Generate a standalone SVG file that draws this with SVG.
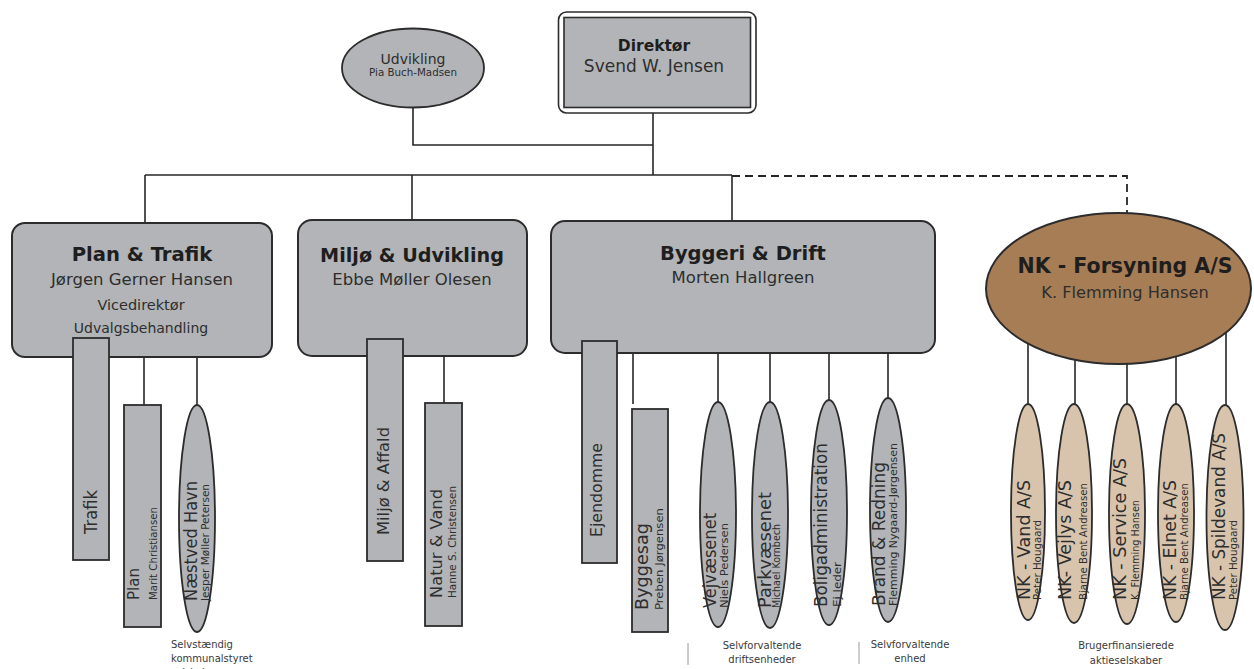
<svg xmlns="http://www.w3.org/2000/svg" width="1254" height="669" viewBox="0 0 1254 669">
<style>
text{font-family:"DejaVu Sans","Liberation Sans",sans-serif;fill:#2e2e2e}
.b{font-weight:bold;fill:#1e1e1e}
.m{text-anchor:middle}
.box{fill:#b2b4b7;stroke:#2c2c2c;stroke-width:2}
.ch{fill:#b2b4b7;stroke:#2c2c2c;stroke-width:1.8}
.nk{fill:#d8c4ad;stroke:#2c2c2c;stroke-width:1.8}
.ln{stroke:#262626;stroke-width:1.6;fill:none}
.dash{stroke:#262626;stroke-width:1.8;fill:none;stroke-dasharray:8 5}
.sep{stroke:#9a9a9a;stroke-width:1}
.lab{font-size:10px;fill:#3a3a3a}
</style>
<g id="connectors">
<polyline class="ln" points="413,108 413,145 653,145"/>
<line class="ln" x1="653" y1="113" x2="653" y2="175"/>
<line class="ln" x1="145" y1="175" x2="732" y2="175"/>
<line class="ln" x1="145" y1="175" x2="145" y2="224"/>
<line class="ln" x1="412" y1="175" x2="412" y2="221"/>
<line class="ln" x1="732" y1="175" x2="732" y2="222"/>
<polyline class="dash" points="732,176 1127,176 1127,214"/>
<line class="ln" x1="144" y1="356" x2="144" y2="405"/>
<line class="ln" x1="197" y1="356" x2="197" y2="405"/>
<line class="ln" x1="444" y1="355" x2="444" y2="403"/>
<line class="ln" x1="633" y1="352" x2="633" y2="404"/>
<line class="ln" x1="718" y1="352" x2="718" y2="402"/>
<line class="ln" x1="770" y1="352" x2="770" y2="402"/>
<line class="ln" x1="829" y1="352" x2="829" y2="400"/>
<line class="ln" x1="888" y1="352" x2="888" y2="398"/>
<line class="ln" x1="1028" y1="300" x2="1028" y2="404"/>
<line class="ln" x1="1075" y1="300" x2="1075" y2="404"/>
<line class="ln" x1="1127" y1="300" x2="1127" y2="404"/>
<line class="ln" x1="1176" y1="300" x2="1176" y2="404"/>
<line class="ln" x1="1226" y1="300" x2="1226" y2="405"/>
</g>
<g id="director">
<rect x="558.5" y="12" width="197.5" height="101" rx="8" fill="#ffffff" stroke="#2c2c2c" stroke-width="1.6"/>
<rect x="564" y="17.5" width="186.5" height="90" fill="#b2b4b7" stroke="#2c2c2c" stroke-width="1.6"/>
<text class="b m" x="654" y="51" font-size="15.5">Direktør</text>
<text class="m" x="654" y="72" font-size="17">Svend W. Jensen</text>
</g>
<g id="udvikling">
<ellipse cx="413" cy="68" rx="71" ry="39.5" class="ch"/>
<text class="m" x="413" y="64" font-size="14">Udvikling</text>
<text class="m" x="413" y="76" font-size="10.3">Pia Buch-Madsen</text>
</g>
<g id="plan-trafik">
<rect x="12" y="223" width="260" height="134" rx="13" class="box"/>
<text class="b m" x="142" y="261" font-size="19.6">Plan &amp; Trafik</text>
<text class="m" x="142" y="285" font-size="16.5">Jørgen Gerner Hansen</text>
<text class="m" x="141" y="310" font-size="14.5">Vicedirektør</text>
<text class="m" x="141" y="333" font-size="14">Udvalgsbehandling</text>
</g>
<g id="trafik">
<rect x="73" y="338" width="36" height="222" class="ch"/>
<text transform="translate(96.5,534) rotate(-90)" font-size="17" textLength="44" lengthAdjust="spacingAndGlyphs">Trafik</text>
</g>
<g id="plan">
<rect x="124" y="405" width="37" height="222" class="ch"/>
<text transform="translate(138.5,600) rotate(-90)" font-size="15" textLength="32" lengthAdjust="spacingAndGlyphs">Plan</text>
<text transform="translate(156.5,600) rotate(-90)" font-size="11" textLength="93" lengthAdjust="spacingAndGlyphs">Marit Christiansen</text>
</g>
<g id="naestved-havn">
<ellipse cx="197" cy="518.5" rx="18" ry="113.5" class="ch"/>
<text transform="translate(196.5,601) rotate(-90)" font-size="18" textLength="120" lengthAdjust="spacingAndGlyphs">Næstved Havn</text>
<text transform="translate(208.5,601) rotate(-90)" font-size="11" textLength="117" lengthAdjust="spacingAndGlyphs">Jesper Møller Petersen</text>
</g>
<g id="label-selvstaendig">
<text class="lab" x="171" y="648">Selvstændig</text>
<text class="lab" x="171" y="662">kommunalstyret</text>
<text class="lab" x="171" y="676">selskab</text>
</g>
<g id="miljo-udvikling">
<rect x="298" y="220" width="229" height="136" rx="14" class="box"/>
<text class="b m" x="412" y="262" font-size="19.2">Miljø &amp; Udvikling</text>
<text class="m" x="412" y="285" font-size="16.5">Ebbe Møller Olesen</text>
</g>
<g id="miljo-affald">
<rect x="367" y="339" width="36" height="222" class="ch"/>
<text transform="translate(389,535) rotate(-90)" font-size="16.5" textLength="108" lengthAdjust="spacingAndGlyphs">Miljø &amp; Affald</text>
</g>
<g id="natur-vand">
<rect x="425" y="403" width="37" height="223" class="ch"/>
<text transform="translate(441.5,598) rotate(-90)" font-size="16.5" textLength="109" lengthAdjust="spacingAndGlyphs">Natur &amp; Vand</text>
<text transform="translate(455.5,598) rotate(-90)" font-size="11" textLength="112" lengthAdjust="spacingAndGlyphs">Hanne S. Christensen</text>
</g>
<g id="byggeri-drift">
<rect x="551" y="221" width="384" height="132" rx="14" class="box"/>
<text class="b m" x="743" y="260" font-size="19.5">Byggeri &amp; Drift</text>
<text class="m" x="743" y="283" font-size="16.5">Morten Hallgreen</text>
</g>
<g id="ejendomme">
<rect x="582" y="341" width="35" height="222" class="ch"/>
<text transform="translate(602,537) rotate(-90)" font-size="16" textLength="94" lengthAdjust="spacingAndGlyphs">Ejendomme</text>
</g>
<g id="byggesag">
<rect x="632" y="409" width="36" height="223" class="ch"/>
<text transform="translate(648,610) rotate(-90)" font-size="17" textLength="87" lengthAdjust="spacingAndGlyphs">Byggesag</text>
<text transform="translate(663,610) rotate(-90)" font-size="11" textLength="102" lengthAdjust="spacingAndGlyphs">Preben Jørgensen</text>
</g>
<g id="vejvaesenet">
<ellipse cx="718" cy="514.5" rx="18" ry="112.5" class="ch"/>
<text transform="translate(716,608) rotate(-90)" font-size="17" textLength="95" lengthAdjust="spacingAndGlyphs">Vejvæsenet</text>
<text transform="translate(728,608) rotate(-90)" font-size="10.5" textLength="85" lengthAdjust="spacingAndGlyphs">Niels Pedersen</text>
</g>
<g id="parkvaesenet">
<ellipse cx="770" cy="515" rx="18" ry="113" class="ch"/>
<text transform="translate(771,608) rotate(-90)" font-size="18" textLength="116" lengthAdjust="spacingAndGlyphs">Parkvæsenet</text>
<text transform="translate(780,608) rotate(-90)" font-size="10.5" textLength="84" lengthAdjust="spacingAndGlyphs">Michael Kornbech</text>
</g>
<g id="boligadministration">
<ellipse cx="829" cy="512.5" rx="18" ry="112.5" class="ch"/>
<text transform="translate(827,607) rotate(-90)" font-size="17" textLength="164" lengthAdjust="spacingAndGlyphs">Boligadministration</text>
<text transform="translate(840.5,607) rotate(-90)" font-size="10.5" textLength="45" lengthAdjust="spacingAndGlyphs">Ej leder</text>
</g>
<g id="brand-redning">
<ellipse cx="888" cy="510" rx="18" ry="112" class="ch"/>
<text transform="translate(885,606) rotate(-90)" font-size="17" textLength="144" lengthAdjust="spacingAndGlyphs">Brand &amp; Redning</text>
<text transform="translate(897,606) rotate(-90)" font-size="10.5" textLength="163" lengthAdjust="spacingAndGlyphs">Flemming Nygaard-Jørgensen</text>
</g>
<g id="label-selvforvaltende">
<line class="sep" x1="688" y1="643" x2="688" y2="665"/>
<text class="lab m" x="762" y="649">Selvforvaltende</text>
<text class="lab m" x="762" y="663">driftsenheder</text>
<line class="sep" x1="859" y1="642" x2="859" y2="664"/>
<text class="lab m" x="910" y="648">Selvforvaltende</text>
<text class="lab m" x="910" y="662">enhed</text>
</g>
<g id="nk-forsyning">
<ellipse cx="1118.5" cy="288.5" rx="132.5" ry="75.5" fill="#a77d55" stroke="#2c2c2c" stroke-width="2"/>
<text class="b m" x="1125" y="273" font-size="20.5">NK - Forsyning A/S</text>
<text class="m" x="1125" y="298" font-size="16.2">K. Flemming Hansen</text>
</g>
<g id="nk-vand">
<ellipse cx="1028" cy="512" rx="17" ry="108" class="nk"/>
<text transform="translate(1029.5,600) rotate(-90)" font-size="17" textLength="120" lengthAdjust="spacingAndGlyphs">NK - Vand A/S</text>
<text transform="translate(1041,600) rotate(-90)" font-size="10.5" textLength="80" lengthAdjust="spacingAndGlyphs">Peter Hougaard</text>
</g>
<g id="nk-vejlys">
<ellipse cx="1074" cy="513.5" rx="18" ry="109.5" class="nk"/>
<text transform="translate(1071,600) rotate(-90)" font-size="17" textLength="120" lengthAdjust="spacingAndGlyphs">NK- Vejlys A/S</text>
<text transform="translate(1086.5,600) rotate(-90)" font-size="10.5" textLength="117" lengthAdjust="spacingAndGlyphs">Bjarne Bent Andreasen</text>
</g>
<g id="nk-service">
<ellipse cx="1127" cy="514" rx="18" ry="110" class="nk"/>
<text transform="translate(1126,600) rotate(-90)" font-size="17" textLength="142" lengthAdjust="spacingAndGlyphs">NK - Service A/S</text>
<text transform="translate(1138.5,600) rotate(-90)" font-size="10.5" textLength="100" lengthAdjust="spacingAndGlyphs">K. Flemming Hansen</text>
</g>
<g id="nk-elnet">
<ellipse cx="1176" cy="513" rx="18" ry="109" class="nk"/>
<text transform="translate(1176,600) rotate(-90)" font-size="17" textLength="120" lengthAdjust="spacingAndGlyphs">NK - Elnet A/S</text>
<text transform="translate(1187.5,600) rotate(-90)" font-size="10.5" textLength="117" lengthAdjust="spacingAndGlyphs">Bjarne Bent Andreasen</text>
</g>
<g id="nk-spildevand">
<ellipse cx="1225" cy="517.5" rx="18.5" ry="112.5" class="nk"/>
<text transform="translate(1224.5,600) rotate(-90)" font-size="17" textLength="167" lengthAdjust="spacingAndGlyphs">NK - Spildevand A/S</text>
<text transform="translate(1237,600) rotate(-90)" font-size="10.5" textLength="80" lengthAdjust="spacingAndGlyphs">Peter Hougaard</text>
</g>
<g id="label-brugerfinansierede">
<text class="lab m" x="1126" y="649">Brugerfinansierede</text>
<text class="lab m" x="1126" y="664">aktieselskaber</text>
</g>
</svg>
